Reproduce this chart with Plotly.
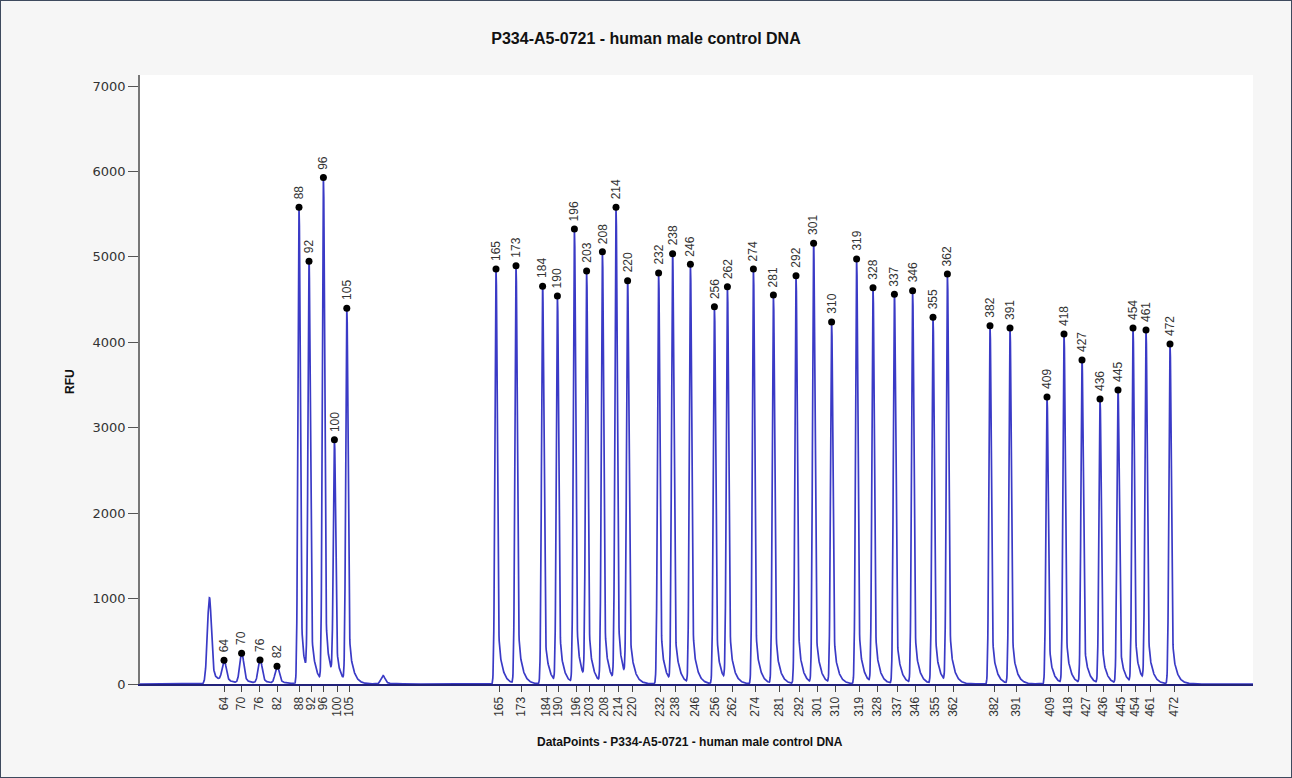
import numpy as np
import plotly.graph_objects as go

# ---------------- data ----------------
sizes = [64, 70, 76, 82, 88, 92, 96, 100, 105,
         165, 173, 184, 190, 196, 203, 208, 214, 220,
         232, 238, 246, 256, 262, 274, 281, 292, 301, 310,
         319, 328, 337, 346, 355, 362,
         382, 391, 409, 418, 427, 436, 445, 454, 461, 472]

# peak position in data points
peak_dp = [420, 508, 600, 685, 795, 845, 917, 972, 1034,
           1780, 1880, 2013, 2087, 2172, 2233, 2312, 2380, 2438,
           2593, 2663, 2752, 2872, 2937, 3067, 3167, 3280, 3368, 3458,
           3583, 3665, 3772, 3863, 3965, 4037,
           4250, 4350, 4535, 4620, 4710, 4800, 4890, 4965, 5030, 5150]

# peak height in RFU
peak_rfu = [277, 359, 281, 207, 5580, 4950, 5930, 2860, 4400,
            4858, 4897, 4655, 4542, 5326, 4834, 5060, 5580, 4721,
            4811, 5037, 4913, 4417, 4651, 4858, 4553, 4780, 5158, 4237,
            4975, 4639, 4561, 4604, 4292, 4799,
            4194, 4167, 3360, 4097, 3793, 3336, 3442, 4167, 4144, 3980]

# size-calibrated tick positions (data points)
tick_dp = [420, 508, 597, 685, 797, 855, 918, 985, 1045,
           1797, 1905, 2030, 2093, 2180, 2247, 2322, 2392, 2462,
           2603, 2678, 2777, 2878, 2960, 3078, 3197, 3297, 3387, 3478,
           3597, 3687, 3787, 3878, 3978, 4067,
           4273, 4380, 4550, 4640, 4732, 4817, 4905, 4978, 5050, 5170]

# unlabelled peaks / shoulders
extra_dp = [346, 1214, 909, 958, 1022, 1867, 2000, 2580, 2650]
extra_rfu = [1000, 98, 200, 160, 170, 150, 220, 280, 300]

title_text = "P334-A5-0721 - human male control DNA"
x_title = "DataPoints - P334-A5-0721 - human male control DNA"
y_title = "RFU"
y_ticks = [0, 1000, 2000, 3000, 4000, 5000, 6000, 7000]

# ---------------- signal built from the peak table ----------------
x = np.arange(0, 5566, 1.0)
kx = np.arange(-30, 31, 1.0)
kernel = np.exp(-0.5 * (kx / 5.0) ** 2)
kernel /= kernel.sum()

all_dp = peak_dp + extra_dp
all_rfu = peak_rfu + extra_rfu


def peak_shape(p, h, small):
    s = 10.0 if small else 5.5
    tau = 40.0 if small else 20.0
    d = x - p
    g = np.exp(-0.5 * (d / s) ** 2)
    tail = np.where(d > 0, 0.21 * np.exp(-d / tau), 0.0)
    tail = np.convolve(tail, kernel, mode="same")
    return h * (g + tail)


def build(amps):
    sig = np.zeros_like(x)
    for p, a, h in zip(all_dp, amps, all_rfu):
        sig += peak_shape(p, a, h < 1500)
    return sig


# adjust amplitudes so that the summed trace passes through each peak height
amps = np.array(all_rfu, dtype=float)
idx = np.array(all_dp, dtype=int)
for _ in range(10):
    sig = build(amps)
    amps += np.array(all_rfu) - sig[idx]
    amps = np.maximum(amps, 0.0)
signal = build(amps)

# ---------------- figure ----------------
W, H = 1292, 778
L, R, T, B = 140, 39, 75, 94
pw, ph = W - L - R, H - T - B
FONT = "Arial, 'Liberation Sans', sans-serif"
WIDEFONT = "'DejaVu Sans', Verdana, sans-serif"

fig = go.Figure()
fig.add_trace(go.Scatter(x=x, y=signal, mode="lines",
                         line=dict(color="#3a3ac6", width=1.7),
                         hoverinfo="skip", showlegend=False))
fig.add_trace(go.Scatter(x=peak_dp, y=peak_rfu, mode="markers",
                         marker=dict(color="black", size=7),
                         cliponaxis=False, showlegend=False))

annotations = []
for p, h, s in zip(peak_dp, peak_rfu, sizes):
    annotations.append(dict(x=p, y=h, xref="x", yref="y", text=str(s),
                            textangle=-90, showarrow=False,
                            xanchor="center", yanchor="bottom", yshift=6,
                            font=dict(family=FONT, size=12, color="#333333")))

annotations.append(dict(x=(690 - L) / pw, y=-(742 - (T + ph)) / ph,
                        xref="paper", yref="paper", text="<b>" + x_title + "</b>",
                        showarrow=False, xanchor="center", yanchor="middle",
                        font=dict(family=FONT, size=12, color="#111111")))
annotations.append(dict(x=-(L - 70) / pw, y=((T + ph) - 382) / ph,
                        xref="paper", yref="paper", text="<b>" + y_title + "</b>",
                        textangle=-90, showarrow=False, xanchor="center", yanchor="middle",
                        font=dict(family=FONT, size=12, color="#111111")))

fig.update_layout(
    width=W, height=H,
    margin=dict(l=L, r=R, t=T, b=B, pad=0),
    paper_bgcolor="#f6f6f6", plot_bgcolor="white",
    title=dict(text="<b>" + title_text + "</b>", x=646 / W, xanchor="center",
               y=1 - 38 / H, yanchor="middle", yref="container",
               font=dict(family=FONT, size=16, color="#111111")),
    annotations=annotations,
    showlegend=False,
    xaxis=dict(range=[0, pw * 5], tickmode="array", tickvals=tick_dp,
               ticktext=[str(s) for s in sizes], tickangle=-90,
               ticks="outside", ticklen=6, tickcolor="#444444", tickwidth=1,
               tickfont=dict(family=FONT, size=12, color="#333333"),
               showgrid=False, zeroline=False, showline=True,
               linecolor="#22227a", linewidth=2),
    yaxis=dict(range=[0, 7129], tickmode="array", tickvals=y_ticks,
               ticktext=[str(v) for v in y_ticks],
               ticks="outside", ticklen=10, tickcolor="#555555", tickwidth=1,
               tickfont=dict(family=WIDEFONT, size=13, color="#333333"),
               showgrid=False, zeroline=False, showline=True,
               linecolor="#777777", linewidth=1.5),
    shapes=[dict(type="rect", xref="paper", yref="paper",
                 x0=-L / pw, x1=(W - L) / pw, y0=-B / ph, y1=(H - B) / ph,
                 line=dict(color="#3e4a5e", width=2), fillcolor="rgba(0,0,0,0)",
                 layer="above")],
)

fig.write_html("out.html", config={"displayModeBar": False},
               post_script="document.body.style.margin='0px';")
